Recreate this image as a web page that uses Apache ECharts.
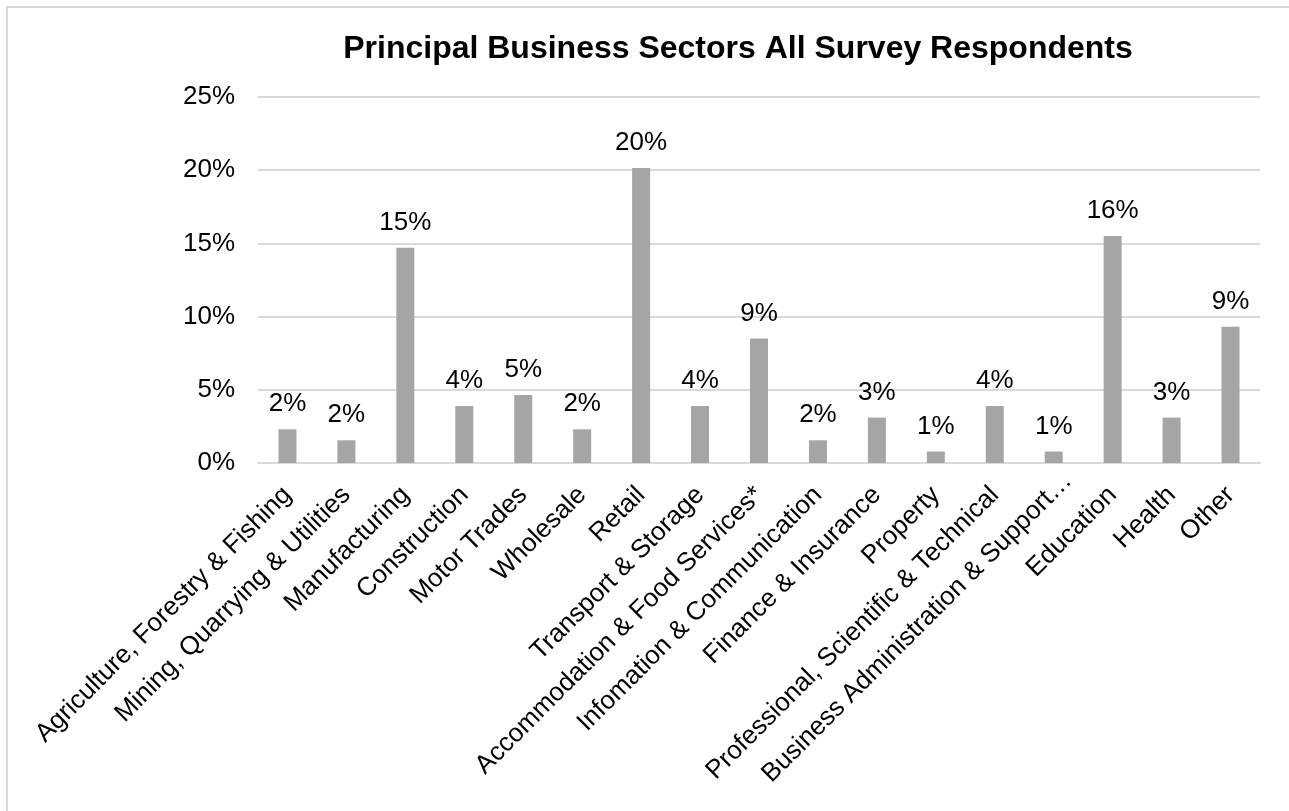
<!DOCTYPE html>
<html>
<head>
<meta charset="utf-8">
<script src="https://cdn.jsdelivr.net/npm/echarts@6/dist/echarts.min.js"></script>
<style>
html,body{margin:0;padding:0;background:#fff;}
#frame{position:absolute;left:6px;top:6px;width:1290px;height:810px;border-left:2px solid #d9d9d9;border-top:2px solid #d9d9d9;border-right:2px solid #eeeeee;box-sizing:border-box;}
#chart{position:absolute;left:0;top:0;width:1289px;height:811px;}
</style>
</head>
<body>
<div id="frame"></div>
<div id="chart"></div>
<script>
const categories = ["Agriculture, Forestry & Fishing","Mining, Quarrying & Utilities","Manufacturing","Construction","Motor Trades","Wholesale","Retail","Transport & Storage","Accommodation & Food Services*","Infomation & Communication","Finance & Insurance","Property","Professional, Scientific & Technical","Business Administration & Support…","Education","Health","Other"];
const values = [2.3, 1.55, 14.7, 3.9, 4.65, 2.3, 20.15, 3.9, 8.5, 1.55, 3.1, 0.78, 3.9, 0.78, 15.5, 3.1, 9.3];
const yTicks = [0, 5, 10, 15, 20, 25];
const titleText = "Principal Business Sectors All Survey Respondents";

const chart = echarts.init(document.getElementById('chart'), null, {renderer:'canvas'});
const font = 'Liberation Sans, Arial, sans-serif';
const catData = categories.map(c => c.endsWith('…')
  ? {value: c, textStyle: {padding: [0, -20, 0, 0]}}
  : c);
chart.setOption({
  backgroundColor: 'transparent',
  animation: false,
  title: {
    text: titleText,
    left: 733, top: 28, textAlign: 'center',
    textStyle: {fontFamily: font, fontSize: 32, fontWeight: 'bold', color: '#000'}
  },
  grid: {left: 258, right: 29, top: 97, bottom: 348, containLabel: false},
  xAxis: {
    type: 'category',
    data: catData,
    axisLine: {lineStyle: {color: '#d9d9d9', width: 2}},
    axisTick: {show: false},
    axisLabel: {rotate: 45, interval: 0, margin: 28, color: '#000', fontFamily: font, fontSize: 26}
  },
  yAxis: {
    type: 'value',
    min: yTicks[0], max: yTicks[yTicks.length-1], interval: 5,
    axisLine: {show: false},
    axisTick: {show: false},
    splitLine: {lineStyle: {color: '#d9d9d9', width: 2}},
    axisLabel: {margin: 23, color: '#000', fontFamily: font, fontSize: 26, formatter: v => v + '%'}
  },
  series: [{
    type: 'bar',
    data: values,
    barWidth: 18,
    itemStyle: {color: '#a5a5a5'},
    label: {
      show: true, position: 'top', distance: 12,
      color: '#000', fontFamily: font, fontSize: 26,
      formatter: p => Math.round(p.value) + '%'
    }
  }]
});
</script>
</body>
</html>
